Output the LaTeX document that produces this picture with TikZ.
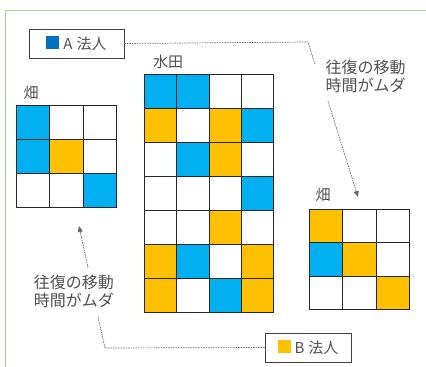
\documentclass[tikz,border=0pt]{standalone}
\usepackage{fontspec}
\newfontfamily\jp{Noto Sans CJK JP}
\usetikzlibrary{arrows.meta}
\definecolor{cB}{HTML}{00B0F0}
\definecolor{cY}{HTML}{FFC000}
\definecolor{cW}{HTML}{FFFFFF}
\definecolor{legblue}{HTML}{0070C0}
\definecolor{frame}{HTML}{A9D18E}
\definecolor{txt}{HTML}{505050}
\begin{document}
\begin{tikzpicture}
[x=1pt, y=-1pt,
  cellbox/.style={shape=rectangle,draw=black!85,line width=1pt,inner sep=0pt,anchor=north west},%
  legbox/.style={draw=black!75,line width=0.8pt,minimum height=29pt,inner sep=0pt,font=\jp\fontsize{15}{16}\selectfont,text=txt},%
  note/.style={align=center,font=\jp\fontsize{16}{18}\selectfont,text=txt},%
  fieldname/.style={font=\jp\fontsize{15}{16}\selectfont,text=txt},%
  linedecorate/.style={black!60,line width=0.7pt,dash pattern=on 1.5pt off 1pt}]
\useasboundingbox (0,0) rectangle (426,367);
%% frame
\draw[frame,line width=1pt] (5,367) -- (5,10) -- (426,10);
%% fields: left, paddy, right
\foreach \r/\row in {0/{B,W,W}, 1/{B,Y,W}, 2/{W,W,B}}
{
  \foreach \col [count=\c from 0] in \row
    \node (L-\r-\c) at (16+\c*33.4,105+\r*34) [cellbox,fill=c\col,
      minimum width=33.4pt,minimum height=34pt] {};
}
\foreach \r/\row in {0/{B,B,W,W}, 1/{Y,W,Y,B}, 2/{W,B,Y,W}, 3/{W,W,W,B},
  4/{W,W,Y,W}, 5/{Y,B,W,Y}, 6/{Y,W,B,Y}}
{
  \foreach \col [count=\c from 0] in \row
    \node (M-\r-\c) at (144+\c*32.3,74+\r*34) [cellbox,fill=c\col,
      minimum width=32.3pt,minimum height=34pt] {};
}
\foreach \r/\row in {0/{Y,W,W}, 1/{B,Y,W}, 2/{W,W,Y}}
{
  \foreach \col [count=\c from 0] in \row
    \node (R-\r-\c) at (309+\c*33.4,209+\r*33.4) [cellbox,fill=c\col,
      minimum width=33.4pt,minimum height=33.4pt] {};
}
%% labels
\node (hataL) at (31,93) [fieldname] {畑};
\node (suiden) at (168,62) [fieldname] {水田};
\node (hataR) at (323,195) [fieldname] {畑};
\node (legA) at (76.5,43.5) [legbox,minimum width=95pt]
  {\textcolor{legblue}{\rule{13pt}{13pt}}\hspace{4pt}A\hspace{4pt}法人};
\node (legB) at (308,347.5) [legbox,minimum width=86pt]
  {\textcolor{cY}{\rule{13pt}{13pt}}\hspace{4pt}B\hspace{4pt}法人};
\node (noteR) at (365.5,76) [note] {往復の移動\\時間がムダ};
\node (noteL) at (74,291) [note] {往復の移動\\時間がムダ};
%% connectors
\coordinate (bendA) at (308,42);
\coordinate (endA) at (315,64);
\coordinate (startR) at (328,101);
\coordinate (tipR) at (358,197);
\coordinate (startL) at (88,268);
\coordinate (tipL) at (79,226);
\coordinate (endB) at (98,317);
\coordinate (bendB) at (105,348);
\draw[linedecorate] (legA.east) -- (bendA) -- (endA);
\draw[linedecorate,-{Triangle[length=6pt,width=5pt]}] (startR) -- (tipR);
\draw[linedecorate,-{Triangle[length=6pt,width=5pt]}] (startL) -- (tipL);
\draw[linedecorate] (endB) -- (bendB) -- (legB.west);
\end{tikzpicture}
\end{document}
